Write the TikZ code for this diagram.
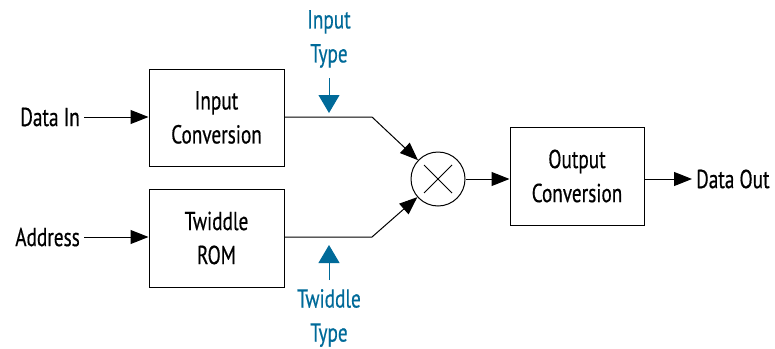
\documentclass[tikz,border=0pt]{standalone}
\usepackage{fontspec}
\setmainfont[FakeStretch=0.74,FakeBold=0.5]{PT Sans}
\usetikzlibrary{arrows.meta,calc}
\definecolor{tblue}{RGB}{0,106,153}
\begin{document}
\begin{tikzpicture}[x=1pt,y=-1pt,
  txt/.style={font=\fontsize{26}{34}\selectfont, align=center, inner sep=4pt},
  blk/.style={draw, line width=1pt, txt},
  wire/.style={line width=1pt},
  arr/.style={wire, -{Triangle[length=18pt,width=14pt]}},
  barr/.style={tblue, line width=1pt, -{Triangle[length=18pt,width=21pt]}}]
\useasboundingbox (0,0) rectangle (775,348);
% blocks
\node[blk, minimum width=135pt, minimum height=97pt] (inconv) at (216.5,117.5) {Input\\Conversion};
\node[blk, minimum width=135pt, minimum height=98pt] (twid) at (216.5,238) {Twiddle\\ROM};
\node[blk, minimum width=134pt, minimum height=98pt] (outconv) at (577,176) {Output\\Conversion};
\node[draw, circle, line width=1pt, minimum size=54pt, inner sep=0pt] (mult) at (438,179) {};
\draw[line width=0.8pt] ($(mult)+(-14,-14)$) -- ($(mult)+(14,14)$)
                        ($(mult)+(-14,14)$) -- ($(mult)+(14,-14)$);
% labels
\node[txt, anchor=east] (datain) at (84,117) {Data In};
\node[txt, anchor=east] (addr) at (84,237) {Address};
\node[txt, anchor=west] (dataout) at (692,179) {Data Out};
\node[txt, tblue] (itype) at (329,39) {Input\\Type};
\node[txt, tblue] (ttype) at (329,318) {Twiddle\\Type};
% corner coordinates
\coordinate (k1) at (372,117);
\coordinate (k2) at (372,237);
\coordinate (itip) at (329,113);
\coordinate (ttip) at (329,245);
% connectors
\draw[arr] (datain.east) -- (datain.east -| inconv.west);
\draw[arr] (addr.east) -- (addr.east -| twid.west);
\draw[arr] (k1 -| inconv.east) -- (k1) -- (mult);
\draw[arr] (k2 -| twid.east) -- (k2) -- (mult);
\draw[arr] (mult.east) -- (mult.east -| outconv.west);
\draw[arr] (outconv.east |- mult.east) -- (dataout.west);
\draw[barr] ($(itip)+(0,-35)$) -- (itip);
\draw[barr] ($(ttip)+(0,35)$) -- (ttip);
\end{tikzpicture}
\end{document}
